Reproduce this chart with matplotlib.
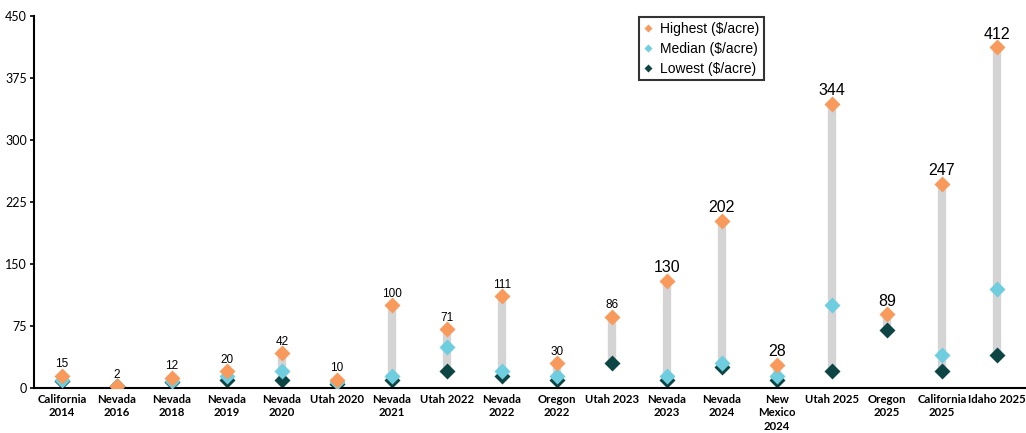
import matplotlib
matplotlib.use("Agg")
import matplotlib.pyplot as plt
import numpy as np

categories = ["California\n2014", "Nevada\n2016", "Nevada\n2018", "Nevada\n2019", "Nevada\n2020",
              "Utah 2020", "Nevada\n2021", "Utah 2022", "Nevada\n2022", "Oregon\n2022", "Utah 2023",
              "Nevada\n2023", "Nevada\n2024", "New\nMexico\n2024", "Utah 2025", "Oregon\n2025",
              "California\n2025", "Idaho 2025"]
highest = [15, 2, 12, 20, 42, 10, 100, 71, 111, 30, 86, 130, 202, 28, 344, 89, 247, 412]
median = [10, 2, 9, 15, 20, 7, 15, 50, 20, 15, np.nan, 15, 30, 15, 100, np.nan, 40, 120]
lowest = [8, 2, 7, 10, 10, 5, 10, 20, 15, 10, 30, 10, 25, 10, 20, 70, 20, 40]
label_big = [False]*11 + [True]*7

plt.rcParams['font.family'] = ['Lato', 'DejaVu Sans']

fig = plt.figure(figsize=(10.26, 4.33), dpi=100)
ax = fig.add_axes([0.033, 0.104, 0.967, 0.859])

x = np.arange(len(categories))
ax.vlines(x, lowest, highest, color='#d4d4d4', linewidth=6, zorder=1)
ax.plot(x, lowest, 'D', color='#0d4444', ms=8, mec='none', zorder=2, label='Lowest ($/acre)')
ax.plot(x, median, 'D', color='#6fcde0', ms=8, mec='none', zorder=3, label='Median ($/acre)')
ax.plot(x, highest, 'D', color='#f79a5c', ms=8, mec='none', zorder=4, label='Highest ($/acre)')

for xi, h, big in zip(x, highest, label_big):
    ax.annotate(str(h), (xi, h), xytext=(0, 4), textcoords='offset points', ha='center', va='bottom',
                fontsize=11.5 if big else 8.5, family=['Liberation Sans', 'DejaVu Sans'])

ax.set_xlim(-0.51, 17.53)
ax.set_ylim(0, 450)
ax.set_yticks([0, 75, 150, 225, 300, 375, 450])
ax.set_xticks(x)
ax.set_xticklabels(categories, fontsize=8.2, fontweight='bold', linespacing=1.3)
ax.tick_params(axis='x', length=0, pad=4)
ax.tick_params(axis='y', labelsize=9, length=3, width=1.2, pad=2)
for s in ['top', 'right']:
    ax.spines[s].set_visible(False)
for s in ['left', 'bottom']:
    ax.spines[s].set_linewidth(1.5)

handles, labels = ax.get_legend_handles_labels()
order = [2, 1, 0]
leg = ax.legend([handles[i] for i in order], [labels[i] for i in order],
                loc='upper left', bbox_to_anchor=(0.609, 1.0), borderaxespad=0.1, markerscale=0.5,
                frameon=True, fancybox=False, edgecolor='black',
                handlelength=0.6, handletextpad=0.6, borderpad=0.3, labelspacing=0.45,
                prop={'family': ['Liberation Sans', 'DejaVu Sans'], 'size': 10})
leg.get_frame().set_linewidth(1.5)

fig.savefig('out.png', dpi=100)
